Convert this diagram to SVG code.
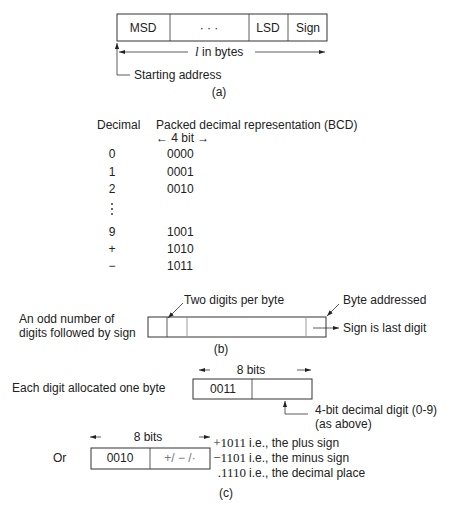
<svg xmlns="http://www.w3.org/2000/svg" width="458" height="506" viewBox="0 0 458 506">
<defs>
<marker id="ah" viewBox="0 0 10 10" refX="10" refY="5" markerWidth="6" markerHeight="6" orient="auto-start-reverse" markerUnits="userSpaceOnUse">
<path d="M0,1.5 L10,5 L0,8.5 z" fill="#222"/>
</marker>
<style>
text{font-family:"Liberation Sans",Arial,sans-serif;font-size:12px;fill:#222}
.c{text-anchor:middle}
.e{text-anchor:end}
.s{font-family:"Liberation Serif","Times New Roman",serif;font-size:13px}
.g{fill:#777}
.box{fill:none;stroke:#333;stroke-width:1}
.gl{stroke:#999;stroke-width:1;fill:none}
.ln{stroke:#333;stroke-width:0.8;fill:none}
</style>
</defs>
<rect width="458" height="506" fill="#fff"/>

<!-- (a) -->
<g id="fieldA">
<rect class="box" x="117" y="14" width="210" height="27"/>
<line class="ln" x1="170" y1="14" x2="170" y2="41"/>
<line class="ln" x1="249" y1="14" x2="249" y2="41"/>
<line class="ln" x1="288" y1="14" x2="288" y2="41"/>
<text class="c" x="143" y="32">MSD</text>
<text class="c" x="209" y="32">· · ·</text>
<text class="c" x="268" y="32">LSD</text>
<text class="c" x="308" y="32">Sign</text>
</g>
<g id="labelA">
<text x="195" y="56"><tspan font-family="Liberation Serif, serif" font-style="italic" font-size="13">l</tspan> in bytes</text>
<text x="134" y="79">Starting address</text>
<text class="c" x="219" y="96">(a)</text>
</g>

<!-- BCD table -->
<g id="table">
<text x="97" y="129">Decimal</text>
<text x="156" y="129">Packed decimal representation (BCD)</text>
<text x="156" y="142">← 4 bit →</text>
<text class="c" x="112" y="158">0</text><text x="167" y="158">0000</text>
<text class="c" x="112" y="176">1</text><text x="167" y="176">0001</text>
<text class="c" x="112" y="193">2</text><text x="167" y="193">0010</text>
<circle cx="112" cy="204" r="0.9" fill="#222"/>
<circle cx="112" cy="209" r="0.9" fill="#222"/>
<circle cx="112" cy="214" r="0.9" fill="#222"/>
<text class="c" x="112" y="236">9</text><text x="167" y="236">1001</text>
<text class="c" x="112" y="253">+</text><text x="167" y="253">1010</text>
<text class="c" x="112" y="270">−</text><text x="167" y="270">1011</text>
</g>

<!-- (b) -->
<g id="fieldB">
<rect class="box" x="148" y="317" width="178" height="20"/>
<line class="ln" x1="167" y1="317" x2="167" y2="337"/>
<line class="gl" x1="187" y1="317" x2="187" y2="337"/>
<line class="gl" x1="306" y1="317" x2="306" y2="337"/>
</g>
<g id="labelB">
<text x="19" y="323">An odd number of</text>
<text x="19" y="337">digits followed by sign</text>
<text x="184" y="304">Two digits per byte</text>
<text x="343" y="304">Byte addressed</text>
<text x="343" y="332">Sign is last digit</text>
<text class="c" x="221" y="353">(b)</text>
</g>

<!-- (c) -->
<g id="fieldC1">
<rect class="box" x="193" y="379" width="119" height="20"/>
<line class="ln" x1="252" y1="379" x2="252" y2="399"/>
<text class="c" x="223" y="393">0011</text>
</g>
<g id="labelC1">
<text x="12" y="392">Each digit allocated one byte</text>
<text class="c" x="251" y="374">8 bits</text>
<text x="315" y="414">4-bit decimal digit (0-9)</text>
<text x="315" y="428">(as above)</text>
</g>
<g id="fieldC2">
<rect class="box" x="91" y="448" width="119" height="21"/>
<line class="ln" x1="150" y1="448" x2="150" y2="469"/>
<text class="c" x="120" y="462">0010</text>
<text class="c g" x="180" y="462">+/ − /·</text>
</g>
<g id="labelC2">
<text x="53" y="462">Or</text>
<text class="c" x="148" y="441">8 bits</text>
<text class="s e" x="246" y="447">+1011</text>
<text class="s e" x="246" y="462">−1101</text>
<text class="s e" x="246" y="477">.1110</text>
<text x="249" y="447">i.e., the plus sign</text>
<text x="249" y="462">i.e., the minus sign</text>
<text x="249" y="477">i.e., the decimal place</text>
<text class="c" x="226" y="497">(c)</text>
</g>

<g id="connectors">
<line class="ln" x1="188" y1="52" x2="119" y2="52" marker-end="url(#ah)"/>
<line class="ln" x1="255" y1="52" x2="325" y2="52" marker-end="url(#ah)"/>
<polyline class="ln" points="130,75 117,75 117,43" marker-end="url(#ah)"/>
<line class="ln" x1="183" y1="303" x2="168" y2="318" marker-end="url(#ah)"/>
<line class="ln" x1="339" y1="304" x2="327" y2="316" marker-end="url(#ah)"/>
<line class="ln" x1="313" y1="328" x2="339" y2="328" marker-end="url(#ah)"/>
<line class="ln" x1="210" y1="370" x2="199" y2="370" marker-end="url(#ah)"/>
<line class="ln" x1="297" y1="370" x2="311" y2="370" marker-end="url(#ah)"/>
<polyline class="ln" points="308,414 285,414 285,401" marker-end="url(#ah)"/>
<line class="ln" x1="101" y1="437" x2="90" y2="437" marker-end="url(#ah)"/>
<line class="ln" x1="199" y1="437" x2="210" y2="437" marker-end="url(#ah)"/>
</g>
</svg>
